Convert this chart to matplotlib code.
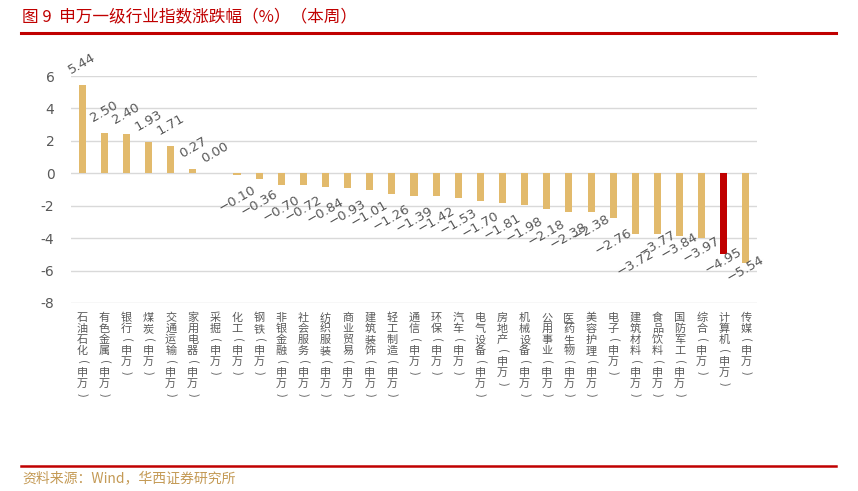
import matplotlib.pyplot as plt
from matplotlib.lines import Line2D

plt.rcParams['font.family'] = ['Noto Sans CJK SC', 'DejaVu Sans']

# industries (SW level 1) and weekly change in %
industries = ["石油石化", "有色金属", "银行", "煤炭", "交通运输", "家用电器", "采掘", "化工",
              "钢铁", "非银金融", "社会服务", "纺织服装", "商业贸易", "建筑装饰", "轻工制造",
              "通信", "环保", "汽车", "电气设备", "房地产", "机械设备", "公用事业", "医药生物",
              "美容护理", "电子", "建筑材料", "食品饮料", "国防军工", "综合", "计算机", "传媒"]
changes = [5.44, 2.50, 2.40, 1.93, 1.71, 0.27, 0.00, -0.10, -0.36, -0.70, -0.72, -0.84,
           -0.93, -1.01, -1.26, -1.39, -1.42, -1.53, -1.70, -1.81, -1.98, -2.18, -2.38,
           -2.38, -2.76, -3.72, -3.77, -3.84, -3.97, -4.95, -5.54]
highlight = "计算机"
yticks = [6, 4, 2, 0, -2, -4, -6, -8]

# label offset (pixels) along y, hand tweaked where excel moved them
label_dy = [21] * 7 + [-24] * 24
label_dy[23] = -16
label_dy[25] = -29
label_dy[26] = -9
label_dy[27] = -10
label_dy[28] = -12
label_dy[29] = -7
label_dy[30] = -6

GOLD = "#E2BA6C"
RED = "#C00000"
GREY = "#595959"

fig = plt.figure(figsize=(8.58, 4.91), dpi=100)
ax = fig.add_axes([0.0828, 0.3829, 0.7995, 0.4623])

x = list(range(len(industries)))
colors = [RED if name == highlight else GOLD for name in industries]
ax.bar(x, changes, width=0.32, color=colors, zorder=3)

for i, v in enumerate(changes):
    ax.annotate(f"{v:.2f}".replace("-", "\u2212"), (i, v), xytext=(0, label_dy[i]),
                textcoords="offset pixels", ha="center", va="center",
                rotation=30, rotation_mode="anchor", fontsize=9.5, color=GREY,
                family=["DejaVu Sans"], annotation_clip=False)

ax.set_xlim(-0.5, len(industries) - 0.5)
ax.set_ylim(-8, 6)
ax.set_yticks(yticks)
ax.set_yticklabels([str(t) for t in yticks], fontsize=10, color=GREY, family=["DejaVu Sans"])
ax.yaxis.grid(True, color="#D9D9D9", linewidth=1)
ax.set_axisbelow(True)
ax.tick_params(axis="y", length=0, pad=12)
ax.set_xticks([])
for s in ax.spines.values():
    s.set_visible(False)

# vertical category labels, one character per row, brackets turned sideways
for i, name in enumerate(industries):
    chars = list(name) + ["(", "申", "万", ")"]
    for k, ch in enumerate(chars):
        rot = -90 if ch in "()" else 0
        ax.annotate(ch, (i, 0), xycoords=("data", "axes fraction"),
                    xytext=(0, -15 - 11 * k), textcoords="offset pixels",
                    ha="center", va="center", fontsize=8, color=GREY,
                    rotation=rot, rotation_mode="anchor", annotation_clip=False)

fig.text(0.026, 0.965, "图 9  申万一级行业指数涨跌幅（%）（本周）", color=RED, fontsize=12,
         ha="left", va="center")
fig.add_artist(Line2D([0.025, 0.974], [0.9328, 0.9328], color=RED, linewidth=2.2))
fig.add_artist(Line2D([0.025, 0.974], [1 - 466 / 491, 1 - 466 / 491], color=RED, linewidth=1.8))
fig.text(0.026, 1 - 478 / 491, "资料来源：Wind，华西证券研究所", color="#C49A55", fontsize=10,
         ha="left", va="center")

fig.savefig("out.png", dpi=100)
